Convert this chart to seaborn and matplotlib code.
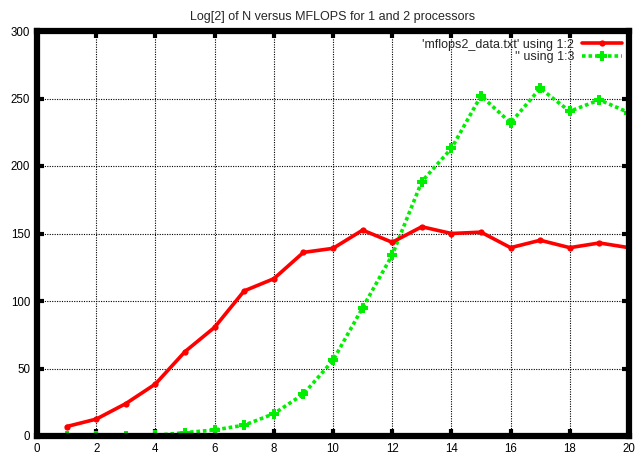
import matplotlib
matplotlib.use("Agg")
import matplotlib.pyplot as plt
import seaborn as sns
import pandas as pd
from matplotlib.lines import Line2D

x_vals = list(range(1, 21))
mflops_1 = [7, 12.5, 24, 38.5, 62.5, 80.5, 107.5, 116.5, 136, 139, 152.5, 143.5, 155, 150, 151, 139.5, 145, 139.5, 143, 139.5]
mflops_2 = [0, 0, 0, 0.5, 2.5, 4.5, 8, 16.5, 31, 56, 95, 134, 188.5, 213, 252, 232, 257.5, 240.5, 249, 239.5]
series_labels = ["'mflops2_data.txt' using 1:2", "'' using 1:3"]
title = "Log[2] of N versus MFLOPS for 1 and 2 processors"

sns.set_style("white")
plt.rcParams['font.family'] = ['Liberation Sans', 'DejaVu Sans']

fig = plt.figure(figsize=(6.43, 4.55), dpi=100)
ax = fig.add_axes([37/643, 1 - 436/455, (629 - 37)/643, (436 - 31)/455])

df1 = pd.DataFrame({"x": x_vals, "y": mflops_1})
df2 = pd.DataFrame({"x": x_vals, "y": mflops_2})

sns.lineplot(data=df1, x="x", y="y", ax=ax, color="#ff0000", linewidth=2.6,
             marker="o", markersize=4.5, markeredgewidth=0, zorder=4)
sns.lineplot(data=df2, x="x", y="y", ax=ax, color="#00ee00", linewidth=2.6,
             linestyle=(0, (1, 0.8)), marker="P", markersize=6.5, markeredgewidth=0, zorder=3)

ax.set_xlim(0, 20)
ax.set_ylim(0, 300)
ax.set_xticks(range(0, 21, 2))
ax.set_yticks(range(0, 301, 50))
ax.set_xlabel("")
ax.set_ylabel("")
ax.grid(True, color="black", linestyle=(0, (1, 1.2)), linewidth=0.8)
ax.set_axisbelow(True)
for s in ax.spines.values():
    s.set_linewidth(4.5)
    s.set_color("black")
    s.set_zorder(6)
ax.tick_params(direction="in", length=5, width=3, labelsize=8.3, pad=5,
               top=True, right=True, bottom=True, left=True, colors="black")
ax.set_title(title, fontsize=9, pad=8)

handles = [
    Line2D([], [], color="#ff0000", linewidth=2.6, marker="o", markersize=4.5, markeredgewidth=0),
    Line2D([], [], color="#00ee00", linewidth=2.6, linestyle=(0, (1, 0.8)), marker="P", markersize=6.5, markeredgewidth=0),
]
leg = ax.legend(handles, series_labels, loc="upper right", frameon=False, markerfirst=False,
                fontsize=9, handlelength=3.2, borderaxespad=0.2, labelspacing=0.05,
                handletextpad=0.6, bbox_to_anchor=(1.0, 1.0))
for t in leg.get_texts():
    t.set_ha("right")

fig.savefig("out.png", dpi=100)
